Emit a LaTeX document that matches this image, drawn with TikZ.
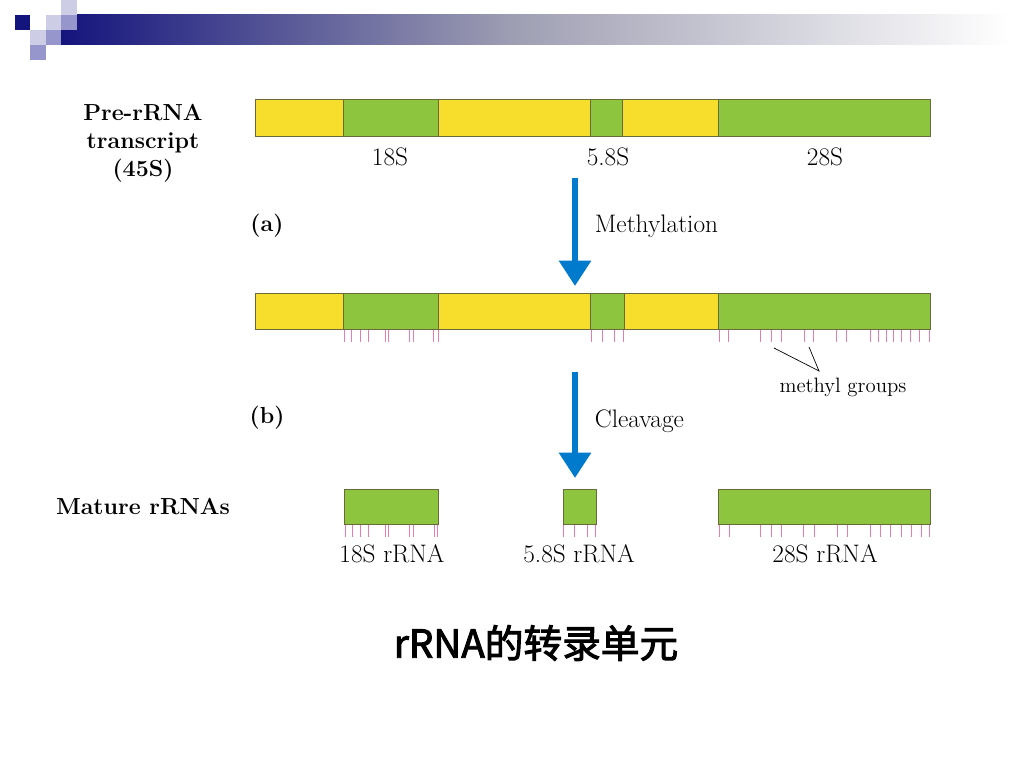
\documentclass[tikz,border=0pt]{standalone}
\usepackage{fontspec}
\newfontfamily\cjk{Noto Sans CJK SC}[AutoFakeBold=2.5]
\usetikzlibrary{arrows.meta}
\tikzset{>=stealth}
\definecolor{segyellow}{RGB}{247,221,44}
\definecolor{seggreen}{RGB}{141,197,63}
\definecolor{segline}{RGB}{105,105,60}
\definecolor{methylpink}{RGB}{232,125,172}
\definecolor{arrowblue}{RGB}{0,122,204}
\definecolor{decoNavy}{RGB}{20,20,125}
\definecolor{decoGray}{RGB}{160,160,180}
\definecolor{decoLight}{RGB}{205,205,230}
\definecolor{decoMid}{RGB}{150,150,205}
\tikzset{
  segy/.style={fill=segyellow, draw=segline, line width=0.6pt},
  segg/.style={fill=seggreen, draw=segline, line width=0.6pt},
  tickmark/.style={methylpink, line width=0.6pt},
  bigarrow/.style={arrowblue, line width=4.2pt, -{Triangle[width=22pt,length=18pt]}},
  lbl/.style={font=\fontsize{18}{21}\selectfont},
  boldlbl/.style={font=\fontsize{16.5}{20}\selectfont\bfseries, align=center},
}

\begin{document}
\begin{tikzpicture}[x=0.025cm, y=-0.025cm]
\useasboundingbox (0,0) rectangle (1024,768);
% slide decoration
\shade[left color=decoNavy, right color=decoGray] (61,15) rectangle (520,45);
\shade[left color=decoGray, right color=white] (520,15) rectangle (1010,45);
\fill[decoNavy] (15,15) rectangle (30,30);
\fill[decoLight] (46,15) rectangle (61,30);
\fill[decoLight] (61,0) rectangle (77,15);
\fill[decoMid] (61,15) rectangle (77,30);
\fill[decoLight] (30,30) rectangle (46,45);
\fill[decoMid] (46,30) rectangle (61,45);
\fill[decoMid] (30,45) rectangle (46,60);

% pre-rRNA transcript
\node[boldlbl] (pre) at (143,143) {Pre-rRNA\\transcript\\(45S)};
\foreach \a/\b/\s in {255/343/segy, 343/438/segg, 438/590/segy, 590/622/segg, 622/718/segy, 718/930/segg}
  \draw[\s] (\a,99) rectangle (\b,136);
\node[lbl] (s18) at (390,157) {18S};
\node[lbl] (s58) at (608,157) {5.8S};
\node[lbl] (s28) at (825,157) {28S};

% (a) methylation
\coordinate (ma) at (575,178);
\coordinate (mb) at (575,286);
\draw[bigarrow] (ma) -- (mb);
\node[boldlbl] (a) at (267,226) {(a)};
\node[lbl, anchor=west] (meth) at (590,226) {Methylation};

\foreach \a/\b/\s in {255/343/segy, 343/438/segg, 438/590/segy, 590/624/segg, 624/718/segy, 718/930/segg}
  \draw[\s] (\a,293) rectangle (\b,329);
\foreach \t in {344,351.5,360,368,385,388.5,409,413,433.5,438, 591,602.5,614.5,623.5, 719,728.5,760,771.5,781.5,804,813.5,836.5,846.5,870.5,878.5,886.5,893.5,901.5,910,919,929}
  \draw[tickmark] (\t,330) -- (\t,342);
\node[font=\fontsize{14.8}{17}\selectfont] (methyl) at (843,387) {methyl groups};
\coordinate (mgtip) at (819,371);
\coordinate (mgA) at (774,348);
\coordinate (mgB) at (809,347);
\draw[line width=0.5pt] (mgA) -- (mgtip) -- (mgB);

% (b) cleavage
\coordinate (ca) at (575,372);
\coordinate (cb) at (575,478);
\draw[bigarrow] (ca) -- (cb);
\node[boldlbl] (b) at (267,418) {(b)};
\node[lbl, anchor=west] (cleav) at (590,421) {Cleavage};

% mature rRNAs
\node[boldlbl] (mature) at (143,507) {Mature rRNAs};
\draw[segg] (344,489) rectangle (438,524);
\draw[segg] (563,489) rectangle (596,524);
\draw[segg] (718,489) rectangle (930,524);
\foreach \t in {345,352,360,368,385,388.5,409,413,434,437.5, 563.5,574,587,595.5, 719,729,760,771.5,781,803.5,814,837,847,870.5,880.5,890.5,901,911,921,929.5}
  \draw[tickmark] (\t,525) -- (\t,537);
\node[lbl] (r18) at (392,554) {18S rRNA};
\node[lbl] (r58) at (579,554) {5.8S rRNA};
\node[lbl] (r28) at (825,554) {28S rRNA};

\node[font=\cjk\bfseries\fontsize{27.5}{32}\selectfont] (title) at (536,643) {rRNA的转录单元};
\end{tikzpicture}
\end{document}
